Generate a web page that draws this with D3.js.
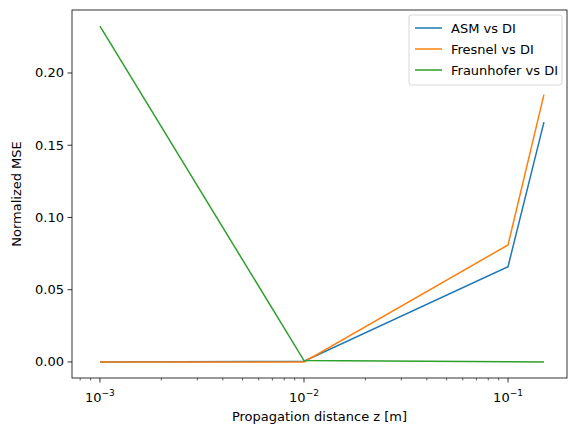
<!DOCTYPE html>
<html><head>
<script src="https://cdnjs.cloudflare.com/ajax/libs/d3/7.8.5/d3.min.js"></script>
<style>body{margin:0;background:#fff;font-family:'DejaVu Sans',sans-serif}</style>
</head><body>
<svg id="c" width="576" height="435"></svg>
<script>
var zValues = [1e-3, 1e-2, 1e-1, 0.15];
var asmVsDi = [0.0, 0.0005, 0.066, 0.166];
var fresnelVsDi = [0.0, 0.0, 0.081, 0.185];
var fraunhoferVsDi = [0.2325, 0.001, 0.0002, 0.0];
var seriesNames = ["ASM vs DI", "Fresnel vs DI", "Fraunhofer vs DI"];
var colors = ["#1f77b4", "#ff7f0e", "#2ca02c"];
var yTicks = [0, 0.05, 0.10, 0.15, 0.20];
var xTicks = [1e-3, 1e-2, 1e-1];

var L = 72, R = 567, T = 10, B = 378;
var svg = d3.select("#c");
var x = d3.scaleLog().domain([Math.pow(10, -3.137), Math.pow(10, -0.711)]).range([L, R]);
var y = d3.scaleLinear().domain([-0.0111, 0.2436]).range([B, T]);

var minor = [];
[-4, -3, -2, -1].forEach(function(e){ for (var k = 2; k < 10; k++){ var v = k*Math.pow(10,e); if (v > x.domain()[0] && v < x.domain()[1]) minor.push(v); } });

var xAxis = svg.append("g").attr("transform", "translate(0," + B + ")");
xAxis.selectAll("line.mi").data(minor).join("line").attr("x1", x).attr("x2", x).attr("y1", 0).attr("y2", 2.5).attr("stroke", "#000").attr("stroke-width", 0.6);
xAxis.selectAll("line.ma").data(xTicks).join("line").attr("x1", x).attr("x2", x).attr("y1", 0).attr("y2", 4.5).attr("stroke", "#000").attr("stroke-width", 0.8);
var xl = xAxis.selectAll("text").data(xTicks).join("text").attr("x", x).attr("y", 24).attr("text-anchor", "middle").attr("font-size", 13);
xl.append("tspan").text("10");
xl.append("tspan").attr("dy", -6).attr("font-size", 9).text(function(d){ return "\u2212" + Math.round(-Math.log10(d)); });

var yAxis = svg.append("g");
yAxis.selectAll("line").data(yTicks).join("line").attr("x1", L - 4.5).attr("x2", L).attr("y1", y).attr("y2", y).attr("stroke", "#000").attr("stroke-width", 0.8);
yAxis.selectAll("text").data(yTicks).join("text").attr("x", L - 8).attr("y", function(d){ return y(d) + 4.5; }).attr("text-anchor", "end").attr("font-size", 13).text(function(d){ return d.toFixed(2); });

svg.append("text").attr("x", (L + R)/2).attr("y", 421).attr("text-anchor", "middle").attr("font-size", 13).text("Propagation distance z [m]");
svg.append("text").attr("transform", "translate(21," + (T + B)/2 + ") rotate(-90)").attr("text-anchor", "middle").attr("font-size", 13).text("Normalized MSE");

var line = d3.line().x(function(d, i){ return x(zValues[i]); }).y(function(d){ return y(d); });
[asmVsDi, fresnelVsDi, fraunhoferVsDi].forEach(function(s, i){
  svg.append("path").attr("d", line(s)).attr("fill", "none").attr("stroke", colors[i]).attr("stroke-width", 1.5);
});

svg.append("rect").attr("x", L).attr("y", T).attr("width", R - L).attr("height", B - T).attr("fill", "none").attr("stroke", "#000").attr("stroke-width", 0.8);

var lg = svg.append("g").attr("transform", "translate(409,15)");
lg.append("rect").attr("width", 153).attr("height", 70).attr("rx", 2.5).attr("fill", "#fff").attr("fill-opacity", 0.8).attr("stroke", "#ccc").attr("stroke-width", 0.8);
seriesNames.forEach(function(n, i){
  var yy = 13 + i*21;
  lg.append("line").attr("x1", 6).attr("x2", 33).attr("y1", yy).attr("y2", yy).attr("stroke", colors[i]).attr("stroke-width", 1.5);
  lg.append("text").attr("x", 42).attr("y", yy + 4.5).attr("font-size", 13).text(n);
});
</script>
</body></html>
